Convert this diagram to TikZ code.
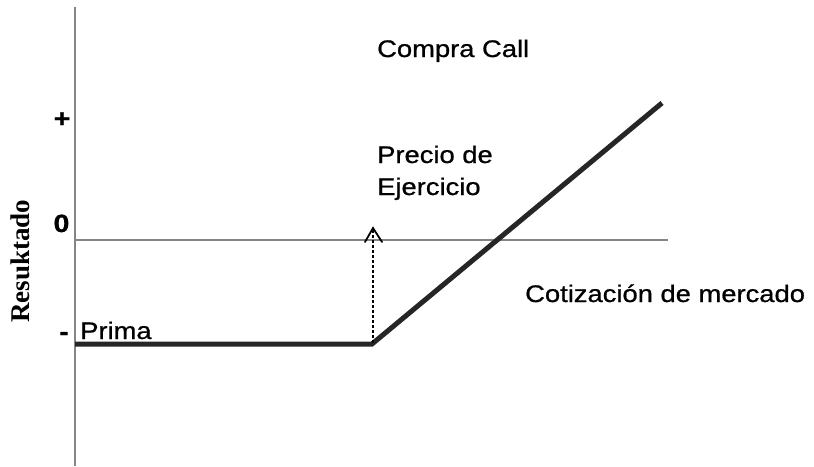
\documentclass[tikz,border=0pt]{standalone}
\usepackage{fontspec}
\setmainfont{Liberation Sans}[FakeStretch=1.14,FakeBold=0.8]
\newfontfamily\serifbold{Liberation Serif}
\usetikzlibrary{arrows.meta}
\begin{document}
\begin{tikzpicture}[x=1pt,y=-1pt,
  lbl/.style={inner sep=0pt,font=\fontsize{24}{32}\selectfont},
  tick/.style={inner sep=0pt,font=\fontsize{25}{30}\selectfont\bfseries},
  axisline/.style={draw=black!48,line width=2.6pt},
  zeroline/.style={draw=black!48,line width=1.8pt},
  payoff/.style={draw=black!85,line width=5pt,line join=miter},
  strikeline/.style={draw=black,line width=1.4pt,dash pattern=on 3pt off 2pt},
  strikehead/.style={draw=black,line width=1.8pt,line cap=round,line join=miter}]
\useasboundingbox (0,0) rectangle (814,466);
% axes
\coordinate (ytop) at (75,7);
\coordinate (ybot) at (75,466);
\coordinate (xl) at (75,240);
\coordinate (xr) at (668,240);
\draw[axisline] (ytop) -- (ybot);
\draw[zeroline] (xl) -- (xr);
% payoff
\coordinate (p0) at (75,344);
\coordinate (k) at (372,344);
\coordinate (p1) at (662,103);
\draw[payoff] (p0) -- (k) -- (p1);
% strike arrow
\coordinate (kbase) at (373,343);
\coordinate (ktip) at (373,228);
\coordinate (kbl) at (365,242);
\coordinate (kbr) at (382,242);
\draw[strikeline] (kbase) -- (ktip);
\draw[strikehead] (kbl) -- (ktip) -- (kbr);
% labels
\node[lbl,anchor=base west] (title) at (377,57) {Compra Call};
\node[lbl,anchor=base west] (strike) at (377,163) {Precio de};
\node[lbl,anchor=base west] (strike2) at (377,195) {Ejercicio};
\node[lbl,anchor=base west] (xlab) at (525,302) {Cotización de mercado};
\node[lbl,anchor=base west] (prima) at (80,339) {Prima};
\node[tick,anchor=base] (plus) at (62,127) {+};
\node[tick,anchor=base] (zero) at (61.5,232) {0};
\node[tick,anchor=base] (minus) at (64,340) {-};
\node[inner sep=0pt,rotate=90,font=\serifbold\fontsize{27}{32}\selectfont\bfseries] (ylab) at (20,261) {Resuktado};
\end{tikzpicture}
\end{document}
